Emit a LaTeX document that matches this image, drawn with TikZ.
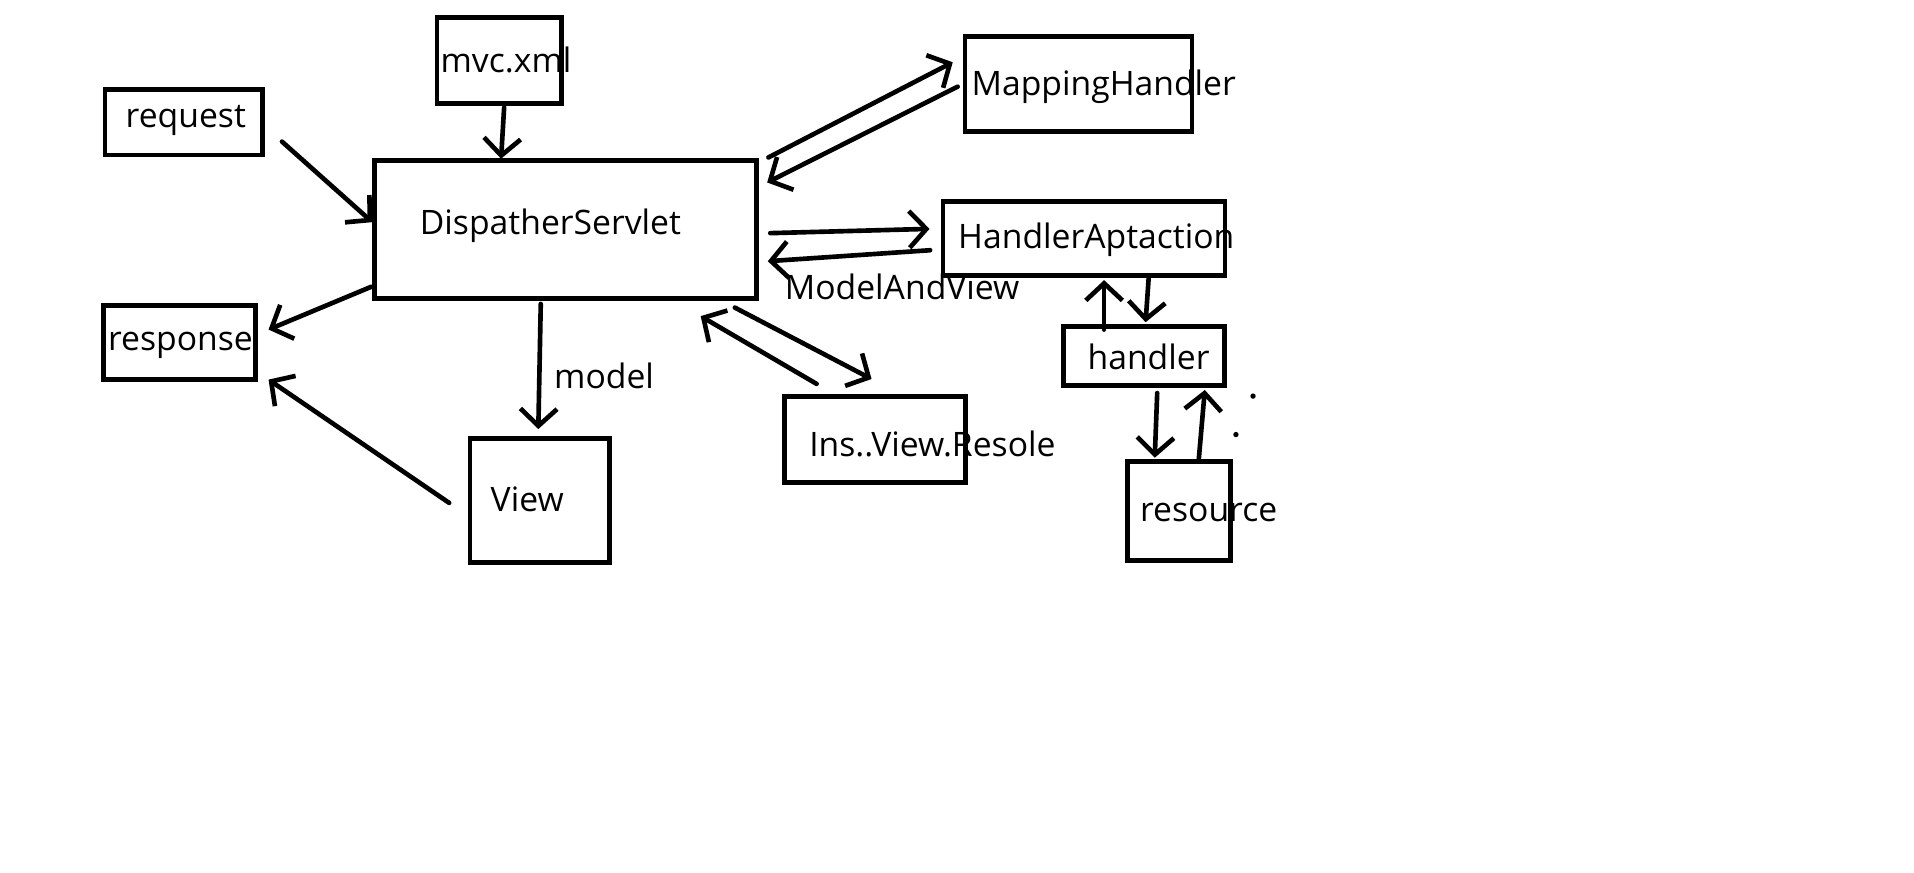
\documentclass[tikz,border=0pt]{standalone}
\usepackage{fontspec}
\setmainfont{Open Sans}
\usetikzlibrary{arrows.meta}
\tikzset{
  box/.style={draw=black, line width=2pt, rectangle, outer sep=0pt, inner sep=0pt},
  txt/.style={anchor=base west, inner sep=0pt, outer sep=0pt, font=\fontsize{13.8}{16}\selectfont},
  arr/.style={line width=1.9pt, line cap=round, -{Straight Barb[length=7pt,width=15pt,line width=1.9pt]}},
}
\begin{document}
\begin{tikzpicture}[x=0.5pt,y=-0.5pt]
\useasboundingbox (0,0) rectangle (1568,715);
\fill[white] (0,0) rectangle (1568,715);
% boxes
\node[box, minimum width=64.5pt, minimum height=27pt] (req) at (150.5,100) {};
\node[box, minimum width=51pt, minimum height=35pt] (mvc) at (409,49.5) {};
\node[box, minimum width=156.5pt, minimum height=56.5pt] (disp) at (463.5,188) {};
\node[box, minimum width=62pt, minimum height=30.5pt] (resp) at (147,280.5) {};
\node[box, minimum width=57pt, minimum height=51pt] (view) at (442,410) {};
\node[box, minimum width=93pt, minimum height=39pt] (maph) at (883.5,68.7) {};
\node[box, minimum width=115.5pt, minimum height=30.5pt] (hapt) at (888,195.5) {};
\node[box, minimum width=74pt, minimum height=35pt] (ins) at (717,360) {};
\node[box, minimum width=66pt, minimum height=24pt] (hdl) at (937,291.5) {};
\node[box, minimum width=42pt, minimum height=40.5pt] (res) at (966,418.5) {};
% texts
\node[txt] (treq) at (103,104.6) {request};
\node[txt] (tmvc) at (361,59.5) {mvc.xml};
\node[txt] (tdisp) at (344,192) {DispatherServlet};
\node[txt] (tresp) at (88.6,287.5) {response};
\node[txt] (tview) at (402,419) {View};
\node[txt] (tmodel) at (454,318) {model};
\node[txt] (tmaph) at (796,78.4) {MappingHandler};
\node[txt] (thapt) at (785,203.5) {HandlerAptaction};
\node[txt] (tmav) at (643,245) {ModelAndView};
\node[txt] (tins) at (663,374) {Ins..View.Resole};
\node[txt] (thdl) at (891,303) {handler};
\node[txt] (tres) at (934,427) {resource};
% arrows
\draw[arr] ([shift={(80.5,16)}]req.center) -- ([shift={(-158.5,-6)}]disp.center);
\draw[arr] ([shift={(4,38.5)}]mvc.center) -- ([shift={(-53,-58)}]disp.center);
\draw[arr] ([shift={(-159.5,47)}]disp.center) -- ([shift={(73,-10.5)}]resp.center);
\draw[arr] ([shift={(-74,2)}]view.center) -- ([shift={(73,30.5)}]resp.center);
\draw[arr] ([shift={(-20.5,61)}]disp.center) -- ([shift={(-1,-58.5)}]view.center);
\draw[arr] ([shift={(166,-59)}]disp.center) -- ([shift={(-103,-17.7)}]maph.center);
\draw[arr] ([shift={(-99,2.3)}]maph.center) -- ([shift={(165,-38.5)}]disp.center);
\draw[arr] ([shift={(167.5,3)}]disp.center) -- ([shift={(-126.5,-8)}]hapt.center);
\draw[arr] ([shift={(-126,9.5)}]hapt.center) -- ([shift={(165.5,26)}]disp.center);
\draw[arr] ([shift={(138.5,64)}]disp.center) -- ([shift={(-3,-49.5)}]ins.center);
\draw[arr] ([shift={(-48,-45.5)}]ins.center) -- ([shift={(110.5,71)}]disp.center);
\draw[arr] ([shift={(-32.5,-21.5)}]hdl.center) -- ([shift={(16.5,34)}]hapt.center);
\draw[arr] ([shift={(53,32.5)}]hapt.center) -- ([shift={(1.5,-27.5)}]hdl.center);
\draw[arr] ([shift={(11,30.5)}]hdl.center) -- ([shift={(-20,-43.5)}]res.center);
\draw[arr] ([shift={(16,-41.5)}]res.center) -- ([shift={(50,28)}]hdl.center);
% dots
\fill (1026.5,324.5) circle (2.2);
\fill (1012.5,356) circle (2.2);
\end{tikzpicture}
\end{document}
